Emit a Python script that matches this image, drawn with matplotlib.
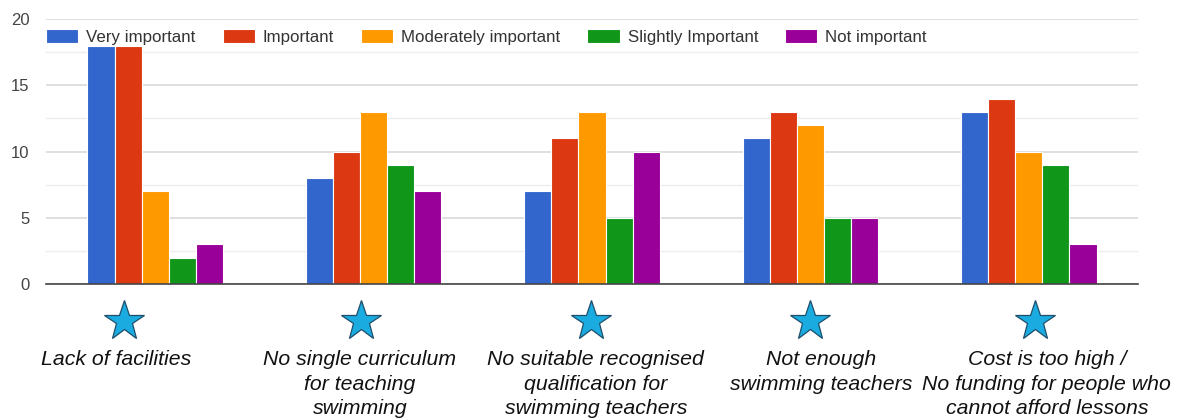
import matplotlib
matplotlib.use("Agg")
import matplotlib.pyplot as plt
import numpy as np
from matplotlib.transforms import blended_transform_factory

categories = [
    "Lack of facilities",
    "No single curriculum\nfor teaching\nswimming",
    "No suitable recognised\nqualification for\nswimming teachers",
    "Not enough\nswimming teachers",
    "Cost is too high /\nNo funding for people who\ncannot afford lessons",
]
series_names = ["Very important", "Important", "Moderately important",
                "Slightly Important", "Not important"]
very_important = [18, 8, 7, 11, 13]
important = [18, 10, 11, 13, 14]
moderately_important = [7, 13, 13, 12, 10]
slightly_important = [2, 9, 5, 5, 9]
not_important = [3, 7, 10, 5, 3]
y_ticks = [0, 5, 10, 15, 20]

series = [very_important, important, moderately_important,
          slightly_important, not_important]
colors = ["#3366CC", "#DC3912", "#FF9900", "#109618", "#990099"]

# hand-placed annotation nudges (in category units) for stars and captions
star_shift = [-0.143, -0.058, -0.005, -0.002, 0.028]
label_shift = [-0.179, -0.062, 0.018, 0.049, 0.083]

plt.rcParams["font.family"] = ["Liberation Sans", "DejaVu Sans"]

fig = plt.figure(figsize=(11.86, 4.18), dpi=100)
ax = fig.add_axes([46 / 1186, 134 / 418, 1092 / 1186, 265 / 418])

n = len(series)
x = np.arange(len(categories))
group_w = 0.62
bw = group_w / n
handles = []
for i, (vals, c, name) in enumerate(zip(series, colors, series_names)):
    offs = -group_w / 2 + bw * (i + 0.5)
    b = ax.bar(x + offs, vals, width=bw, color=c, edgecolor="white",
               linewidth=0.8, label=name, zorder=3)
    handles.append(b)

ax.set_xlim(-0.5, len(categories) - 0.5)
ax.set_ylim(0, 20)
ax.set_yticks(y_ticks)
ax.set_yticks([2.5, 7.5, 12.5, 17.5], minor=True)
ax.grid(axis="y", which="major", color="#D9D9D9", linewidth=1.2, zorder=0)
ax.grid(axis="y", which="minor", color="#EDEDED", linewidth=1.0, zorder=0)
for s in ["top", "right", "left"]:
    ax.spines[s].set_visible(False)
ax.spines["bottom"].set_color("#444444")
ax.spines["bottom"].set_linewidth(1.2)
ax.spines["bottom"].set_zorder(4)
ax.tick_params(axis="y", which="both", length=0, labelsize=12,
               labelcolor="#444444", pad=12)
ax.set_xticks([])

# star markers and captions under each category
trans = blended_transform_factory(ax.transData, ax.transAxes)
ax.plot(x + np.array(star_shift), [-0.138] * len(x), linestyle="none",
        marker="*", markersize=30, markerfacecolor="#1AACE0",
        markeredgecolor="#1F4E6B", markeredgewidth=0.9,
        transform=trans, clip_on=False)
for xi, dx, lab in zip(x, label_shift, categories):
    ax.text(xi + dx, -0.25, lab, transform=trans, ha="center", va="top",
            fontsize=15.3, fontstyle="italic", color="#111111",
            linespacing=1.37, multialignment="center")

leg = ax.legend(handles=handles, loc="center left",
                bbox_to_anchor=(0.0, 0.932), ncol=5, frameon=False,
                fontsize=12.2, handlelength=1.9, handleheight=0.88,
                handletextpad=0.47, columnspacing=1.6, borderaxespad=0,
                borderpad=0, labelcolor="#333333")
leg.set_zorder(5)

fig.savefig("out.png", dpi=100)
